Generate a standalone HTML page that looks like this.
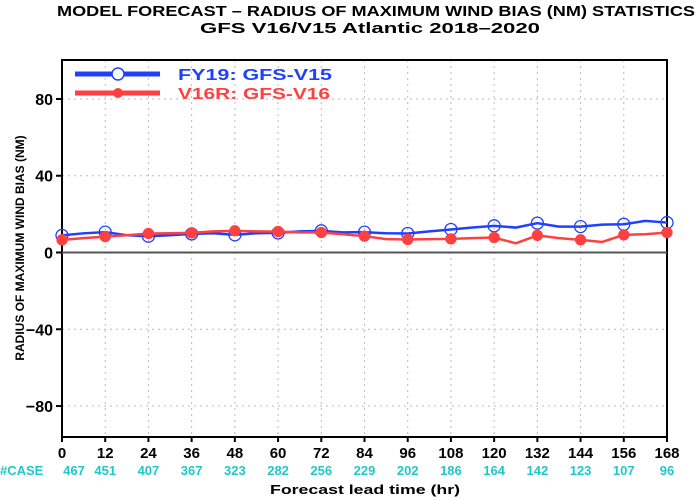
<!DOCTYPE html>
<html><head><meta charset="utf-8"><style>
body{margin:0;background:#fff;}
svg{display:block;font-family:"Liberation Sans",sans-serif;}
</style></head><body>
<svg id="chart" width="700" height="500">
<text x="376" y="16" text-anchor="middle" font-size="15" font-weight="bold" textLength="638" lengthAdjust="spacingAndGlyphs">MODEL FORECAST – RADIUS OF MAXIMUM WIND BIAS (NM) STATISTICS</text>
<text x="370" y="33" text-anchor="middle" font-size="15" font-weight="bold" textLength="340" lengthAdjust="spacingAndGlyphs">GFS V16/V15 Atlantic 2018–2020</text>
<g id="grid"></g>
<rect x="62" y="60" width="605" height="377" fill="none" stroke="#000" stroke-width="2"/>
<g id="axes"></g>
<g id="series"></g>
<text transform="translate(24,248) rotate(-90)" text-anchor="middle" font-size="12" font-weight="bold">RADIUS OF MAXIMUM WIND BIAS (NM)</text>
<text x="365" y="494" text-anchor="middle" font-size="13" font-weight="bold" textLength="190" lengthAdjust="spacingAndGlyphs">Forecast lead time (hr)</text>
<text x="0" y="475" font-size="13" font-weight="bold" fill="#20c8c8">#CASE</text>
<g>
<line x1="75" y1="74" x2="160" y2="74" stroke="#2040ff" stroke-width="5"/>
<circle cx="118" cy="74" r="6" fill="#fff" stroke="#2040ff" stroke-width="1.5"/>
<text x="178" y="80" font-size="16" font-weight="bold" fill="#2040ff" textLength="154" lengthAdjust="spacingAndGlyphs">FY19: GFS-V15</text>
<line x1="75" y1="93" x2="160" y2="93" stroke="#ff4040" stroke-width="5"/>
<circle cx="118" cy="93" r="5" fill="#ff4040"/>
<text x="178" y="99" font-size="16" font-weight="bold" fill="#ff4040" textLength="152" lengthAdjust="spacingAndGlyphs">V16R: GFS-V16</text>
</g>
</svg>
<script>
const hours=[0,6,12,18,24,30,36,42,48,54,60,66,72,78,84,90,96,102,108,114,120,126,132,138,144,150,156,162,168];
const v15=[8.9,10,10.6,9,8.5,9,9.7,10,9.2,10,10.2,11,11.3,10.5,10.6,10,9.9,11,12,13,13.9,13,15.3,13.5,13.5,14.5,14.7,16.5,15.6];
const v16=[6.6,7.5,8.3,9,9.9,10,10.2,11,11.3,11,10.9,10.5,10.4,9.5,8.5,7,6.8,7,7.1,7.5,7.8,4.8,8.9,7.5,6.6,5.5,9.2,9.5,10.4];
const xTicks=[0,12,24,36,48,60,72,84,96,108,120,132,144,156,168];
const cases=[467,451,407,367,323,282,256,229,202,186,164,142,123,107,96];
const yTicks=[80,40,0,-40,-80];
const NS="http://www.w3.org/2000/svg";
const X=h=>62+h*(605/168);
const Y=v=>252.5-v*1.919;
function mk(tag,attrs,parent){const e=document.createElementNS(NS,tag);for(const k in attrs)e.setAttribute(k,attrs[k]);parent.appendChild(e);return e;}
const grid=document.getElementById('grid'),axes=document.getElementById('axes'),ser=document.getElementById('series');
xTicks.forEach((t,i)=>{
 const g=mk('line',{x1:X(t),x2:X(t),y1:60,y2:437,stroke:'#bbb','stroke-dasharray':'2,4'},grid);
 
 
 const tk=mk('line',{x1:X(t),x2:X(t),y1:437,y2:442,stroke:'#000','stroke-width':2},axes);
 
 
 const l=mk('text',{x:X(t),y:458,'text-anchor':'middle','font-size':15,'font-weight':'bold'},axes);
 l.textContent=t;
 
 
 const c=mk('text',{x:X(t)+(i==0?12:0),y:475,'text-anchor':'middle','font-size':13,'font-weight':'bold',fill:'#20c8c8'},axes);
 c.textContent=cases[i];
 
 
});
yTicks.forEach(t=>{
 if(t!==0){const g=mk('line',{x1:62,x2:667,y1:Y(t),y2:Y(t),stroke:'#bbb','stroke-dasharray':'2,4'},grid);
 
 }
 const tk=mk('line',{x1:56,x2:62,y1:Y(t),y2:Y(t),stroke:'#000','stroke-width':2},axes);
 
 
 const l=mk('text',{x:53,y:Y(t)+6,'text-anchor':'end','font-size':16,'font-weight':'bold'},axes);
 l.textContent=t<0?'−'+(-t):t;
 
 
});
const z=mk('line',{x1:62,x2:667,y1:Y(0),y2:Y(0),stroke:'#555','stroke-width':2},axes);


function draw(vals,color,name,filled){
 const p=mk('polyline',{points:hours.map((h,i)=>X(h)+','+Y(vals[i])).join(' '),fill:'none',stroke:color,'stroke-width':2.5},ser);
 
 
 hours.forEach((h,i)=>{if(h%12)return;
  const c=mk('circle',{cx:X(h),cy:Y(vals[i]),r:filled?5:6,fill:filled?color:'none',stroke:color,'stroke-width':1.3},ser);
  
  });
}
draw(v15,'#2040ff','v15',false);
draw(v16,'#ff4040','v16',true);
</script>
</body></html>
